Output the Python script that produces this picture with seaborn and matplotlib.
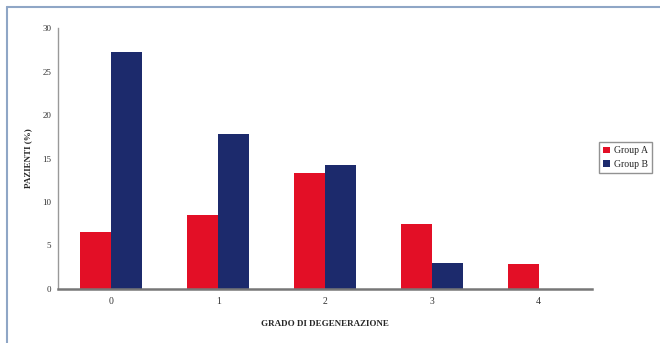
import matplotlib
matplotlib.use("Agg")
import matplotlib.pyplot as plt
from matplotlib.lines import Line2D
from matplotlib.ticker import FixedLocator
import seaborn as sns
import pandas as pd

categories = ["0", "1", "2", "3", "4"]
group_a = [6.6, 8.5, 13.3, 7.5, 2.9]
group_b = [27.2, 17.8, 14.3, 3.0, 0.0]
series_names = ["Group A", "Group B"]
y_ticks = [0, 5, 10, 15, 20, 25, 30]

df = pd.DataFrame({
    "grado": categories * 2,
    "value": group_a + group_b,
    "group": [series_names[0]] * len(categories) + [series_names[1]] * len(categories),
})

sns.set_style("white")
plt.rcParams["font.family"] = ["Liberation Serif", "DejaVu Serif"]

fig = plt.figure(figsize=(6.6, 3.43), dpi=100)
ax = fig.add_axes([58 / 660, 1 - 289 / 343, (592 - 58) / 660, (289 - 28) / 343])

palette = {"Group A": "#e30f26", "Group B": "#1c2a6c"}
sns.barplot(data=df, x="grado", y="value", hue="group", palette=palette,
            width=0.58, ax=ax, saturation=1, edgecolor="none", legend=True)

ax.set_xlim(-0.5, 4.5)
ax.set_ylim(0, 30)
ax.set_yticks(y_ticks)
ax.set_yticklabels([str(t) for t in y_ticks], fontsize=6.5, color="#333333")
ax.tick_params(axis="y", direction="out", length=3, width=0.8, color="#888888", pad=2)
ax.tick_params(axis="x", which="major", length=0, labelsize=7, pad=6, labelcolor="#333333")
ax.xaxis.set_minor_locator(FixedLocator([0.5, 1.5, 2.5, 3.5]))
ax.tick_params(axis="x", which="minor", direction="out", length=2, width=1, color="#777777")

for s in ["top", "right"]:
    ax.spines[s].set_visible(False)
ax.spines["left"].set_color("#999999")
ax.spines["left"].set_linewidth(1.0)
ax.spines["bottom"].set_color("#777777")
ax.spines["bottom"].set_linewidth(1.8)

ax.set_xlabel("GRADO DI DEGENERAZIONE", fontsize=6.5, fontweight="bold", labelpad=10)
ax.set_ylabel("PAZIENTI (%)", fontsize=6.5, fontweight="bold", labelpad=7)

leg = ax.legend(loc="center left", bbox_to_anchor=(599 / 660, 1 - 157.5 / 343),
                bbox_transform=fig.transFigure, fontsize=7, frameon=True,
                handlelength=0.7, handleheight=0.7, handletextpad=0.35,
                borderpad=0.45, labelspacing=0.45, fancybox=False,
                borderaxespad=0)
leg.get_frame().set_edgecolor("#777777")
leg.get_frame().set_linewidth(1.0)

frame_col = "#8fa6c6"
fig.add_artist(Line2D([7 / 660, 1.0], [1 - 7 / 343, 1 - 7 / 343],
                      transform=fig.transFigure, color=frame_col, lw=1.5))
fig.add_artist(Line2D([7 / 660, 7 / 660], [0, 1 - 7 / 343],
                      transform=fig.transFigure, color=frame_col, lw=1.5))

fig.savefig("out.png", dpi=100)
